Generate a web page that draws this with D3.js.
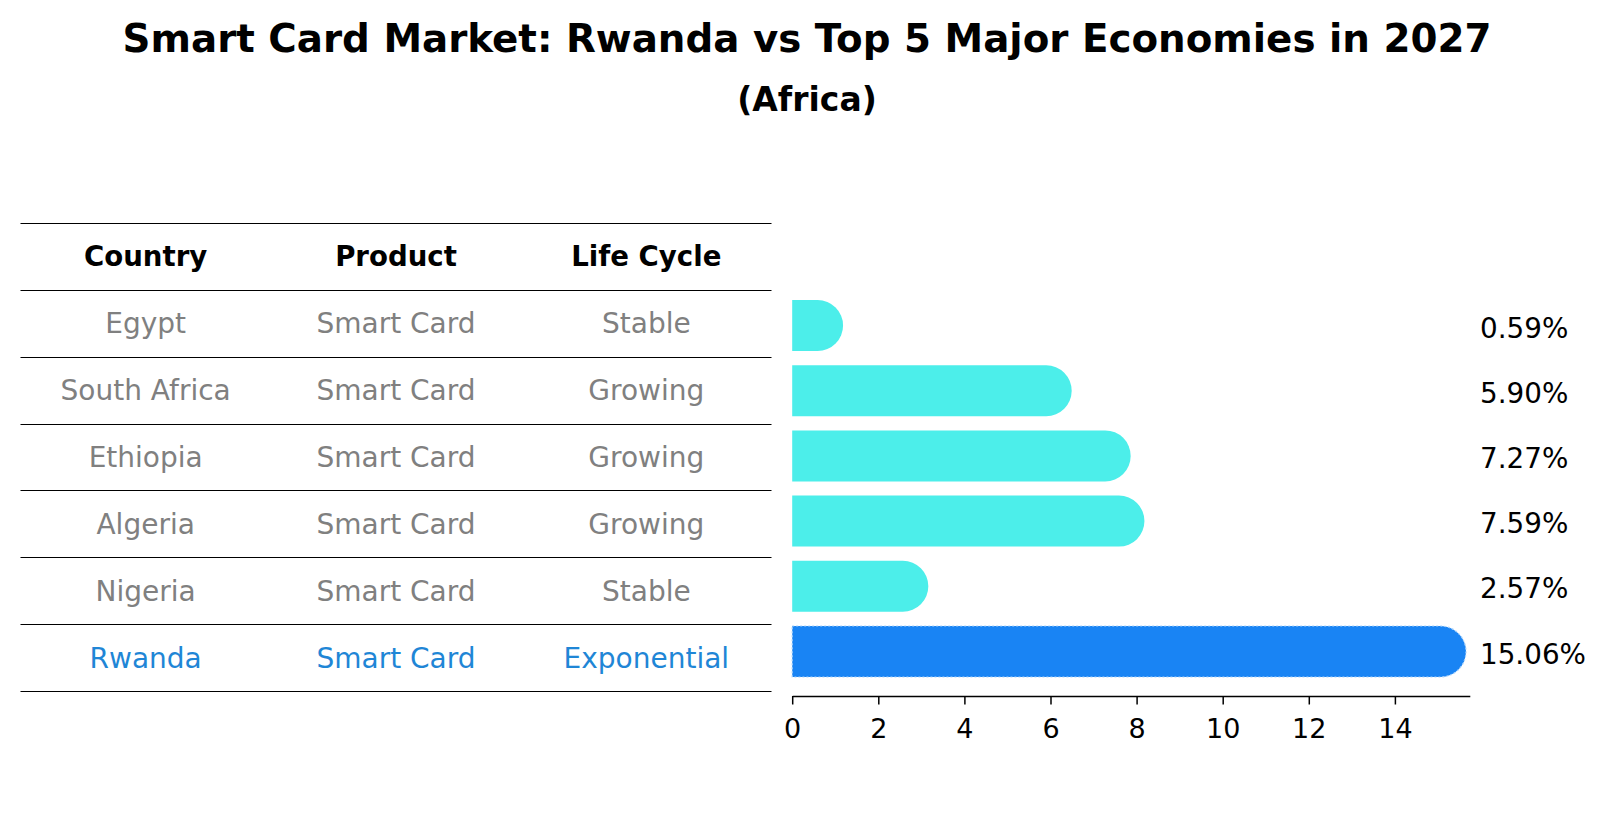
<!DOCTYPE html>
<html>
<head>
<meta charset="utf-8" />
<title>Smart Card Market</title>
<script src="https://cdn.jsdelivr.net/npm/d3@7"></script>
<style>
  body { margin: 0; background: #fff; overflow: hidden; }
  text { font-family: "DejaVu Sans", sans-serif; }
</style>
</head>
<body>
<script>
    var width = 1604, height = 823;

    // data
    var countries = ["Egypt", "South Africa", "Ethiopia", "Algeria", "Nigeria", "Rwanda"];
    var products = ["Smart Card", "Smart Card", "Smart Card", "Smart Card", "Smart Card", "Smart Card"];
    var lifeCycles = ["Stable", "Growing", "Growing", "Growing", "Stable", "Exponential"];
    var shares = [0.59, 5.90, 7.27, 7.59, 2.57, 15.06];
    var headers = ["Country", "Product", "Life Cycle"];
    var xTicks = [0, 2, 4, 6, 8, 10, 12, 14];
    var focus = "Rwanda";

    var cyan = "#4ceeea", blue = "#1984f4", gray = "#808080", focusText = "#1f86d6";

    var svg = d3.select("body").append("svg").attr("width", width).attr("height", height)
        .style("display", "block");

    // titles
    svg.append("text").attr("x", 807).attr("y", 52).attr("text-anchor", "middle")
        .attr("font-size", 38.8).attr("font-weight", "bold")
        .text("Smart Card Market: Rwanda vs Top 5 Major Economies in 2027");
    svg.append("text").attr("x", 807).attr("y", 111).attr("text-anchor", "middle")
        .attr("font-size", 33).attr("font-weight", "bold")
        .text("(Africa)");

    // table
    var rowY = d3.scaleBand().domain(d3.range(countries.length + 1)).range([223, 691]);
    var colX = d3.scaleBand().domain(d3.range(headers.length)).range([20.5, 771.5]);
    var table = svg.append("g");

    var lineYs = d3.range(countries.length + 2).map(function (d) {
        return d < countries.length + 1 ? rowY(d) : rowY(d - 1) + rowY.bandwidth();
    });
    table.selectAll("line.row").data(lineYs).enter().append("line")
        .attr("x1", 20.5).attr("x2", 771.5)
        .attr("y1", function (d) { return Math.round(d) + 0.5; })
        .attr("y2", function (d) { return Math.round(d) + 0.5; })
        .attr("stroke", "#000").attr("stroke-width", 1.2);

    table.selectAll("text.head").data(headers).enter().append("text")
        .attr("x", function (d, i) { return colX(i) + colX.bandwidth() / 2; })
        .attr("y", rowY(0) + rowY.bandwidth() / 2 + 10)
        .attr("text-anchor", "middle").attr("font-size", 27.6).attr("font-weight", "bold")
        .text(function (d) { return d; });

    var rows = countries.map(function (c, i) { return [c, products[i], lifeCycles[i]]; });
    rows.forEach(function (r, i) {
        table.selectAll("text.r" + i).data(r).enter().append("text")
            .attr("x", function (d, j) { return colX(j) + colX.bandwidth() / 2; })
            .attr("y", rowY(i + 1) + rowY.bandwidth() / 2 + 10)
            .attr("text-anchor", "middle").attr("font-size", 28)
            .attr("fill", countries[i] === focus ? focusText : gray)
            .text(function (d) { return d; });
    });

    // bars
    var x = d3.scaleLinear().domain([0, 15.74]).range([792.2, 1469.8]);
    var y = d3.scaleBand().domain(countries).range([292.9, 684.1]).paddingInner(0.218).paddingOuter(0.109);
    var r = y.bandwidth() / 2;

    function barPath(d) {
        var x0 = x(0), x1 = x(d.v), top = y(d.c), bot = top + y.bandwidth();
        return "M" + x0 + "," + top + "L" + x1 + "," + top +
            "A" + r + "," + r + " 0 0 1 " + x1 + "," + bot +
            "L" + x0 + "," + bot + "Z";
    }

    var barData = countries.map(function (c, i) { return { c: c, v: shares[i] }; });
    svg.selectAll("path.bar").data(barData).enter().append("path")
        .attr("d", barPath)
        .attr("fill", function (d) { return d.c === focus ? blue : cyan; })
        .attr("stroke", function (d) { return d.c === focus ? "#a9d2fb" : "none"; })
        .attr("stroke-width", 1.2)
        .attr("stroke-dasharray", "2,2");

    svg.selectAll("text.val").data(barData).enter().append("text")
        .attr("x", 1480)
        .attr("y", function (d) { return y(d.c) + y.bandwidth() / 2 + 12; })
        .attr("font-size", 27.8)
        .text(function (d) { return d.v.toFixed(2) + "%"; });

    // x axis
    var xAxis = d3.axisBottom(x).tickValues(xTicks).tickSize(8.5).tickPadding(14).tickSizeOuter(0);
    var ax = svg.append("g").attr("transform", "translate(0,696)").call(xAxis);
    ax.select(".domain").attr("stroke-width", 1.5);
    ax.selectAll(".tick line").attr("stroke-width", 1.5);
    ax.selectAll("text").attr("font-size", 27).attr("font-family", "DejaVu Sans, sans-serif").attr("fill", "#000");
</script>
</body>
</html>
